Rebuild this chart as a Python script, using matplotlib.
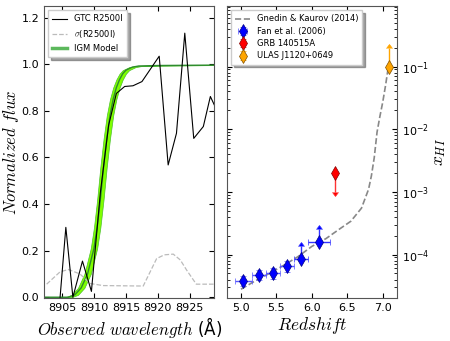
import numpy as np
import matplotlib
matplotlib.use('Agg')
import matplotlib.pyplot as plt

plt.rcParams['mathtext.fontset'] = 'cm'
plt.rcParams['font.family'] = 'DejaVu Sans'
plt.rcParams['xtick.direction'] = 'in'
plt.rcParams['ytick.direction'] = 'in'
plt.rcParams['xtick.top'] = True
plt.rcParams['ytick.right'] = True
plt.rcParams['xtick.labelsize'] = 8
plt.rcParams['ytick.labelsize'] = 8

# --- left panel: spectrum around the Lya break
spec_wl = [8904.7, 8905.6, 8906.7, 8908.2, 8909.6, 8911.0, 8912.3, 8913.5,
           8914.8, 8916.1, 8917.5, 8920.2, 8921.6, 8922.9, 8924.2, 8925.6,
           8927.1, 8928.2, 8929.0]
spec_flux = [0.0, 0.30, 0.0, 0.155, 0.025, 0.45, 0.74, 0.875,
             0.905, 0.908, 0.926, 1.035, 0.568, 0.704, 1.134, 0.682,
             0.733, 0.862, 0.815]

sig_wl = [8902.6, 8904.7, 8906.0, 8907.8, 8909.4, 8911.4, 8917.7, 8919.8,
          8921.0, 8922.4, 8923.5, 8924.5, 8926.0, 8928.8]
sig_flux = [0.056, 0.109, 0.119, 0.100, 0.059, 0.050, 0.048, 0.166,
            0.182, 0.185, 0.160, 0.116, 0.056, 0.056]

model_wl = [8900.0, 8906.0, 8907.0, 8908.0, 8909.0, 8910.0, 8910.5, 8911.0,
            8911.5, 8912.0, 8912.5, 8913.0, 8913.5, 8914.0, 8914.5, 8915.0,
            8916.0, 8917.0, 8920.0, 8930.0]
model_flux = [0.0, 0.0, 0.01, 0.04, 0.10, 0.21, 0.30, 0.42,
              0.56, 0.68, 0.78, 0.85, 0.90, 0.935, 0.96, 0.975,
              0.988, 0.993, 0.995, 0.997]
model_spread = 0.5  # Angstrom, half width of the model band

# --- right panel: neutral fraction vs redshift
gk_z = [5.0, 5.2, 5.4, 5.6, 5.8, 6.0, 6.2, 6.4, 6.55, 6.7, 6.8, 6.84,
        6.88, 6.92, 6.96, 7.0, 7.04, 7.08]
gk_x = [2.8e-5, 3.8e-5, 5.0e-5, 6.7e-5, 9.2e-5, 1.35e-4, 1.8e-4, 2.6e-4,
        3.4e-4, 5.5e-4, 1.1e-3, 1.8e-3, 3.5e-3, 9e-3, 1.6e-2, 2.7e-2,
        5e-2, 0.1]

fan_z = [5.03, 5.25, 5.45, 5.65]
fan_x = [3.8e-5, 4.8e-5, 5.1e-5, 6.5e-5]
fan_zerr = [0.12, 0.1, 0.1, 0.1]
fan_xerr = [0.7e-5, 0.9e-5, 1.0e-5, 1.3e-5]
fan_lim_z = [5.85, 6.10]
fan_lim_x = [8.5e-5, 1.58e-4]
fan_lim_zerr = [0.1, 0.16]
fan_lim_xerr = [5e-5, 1.0e-4]

grb_z = [6.33]
grb_x = [2.0e-3]
grb_err = [1.0e-3]

ulas_z = [7.085]
ulas_x = [0.1]
ulas_err = [0.1]

fig = plt.figure(figsize=(4.5, 3.41), dpi=100)
ax1 = fig.add_axes([0.098, 0.125, 0.378, 0.857])
ax2 = fig.add_axes([0.504, 0.125, 0.378, 0.857])

wl = np.array(model_wl)
ax1.fill_betweenx(model_flux, wl - model_spread, wl + model_spread,
                  facecolor='#80ff00', edgecolor='#4cc02c', lw=0.5, zorder=1)
ax1.plot(model_wl, model_flux, color='#2e8b2e', lw=1.0, zorder=2)
ax1.plot(spec_wl, spec_flux, color='k', lw=0.8, label='GTC R2500I', zorder=3)
ax1.plot(sig_wl, sig_flux, color='#bbbbbb', lw=0.9, ls='--',
         label=r'$\sigma$(R2500I)', zorder=2)
ax1.plot([], [], color='#5cb85c', lw=2.5, label='IGM Model')
ax1.set_xlim(8902.2, 8928.8)
ax1.set_ylim(-0.005, 1.25)
ax1.set_xticks([8905, 8910, 8915, 8920, 8925])
ax1.set_yticks([0.0, 0.2, 0.4, 0.6, 0.8, 1.0, 1.2])
ax1.set_xlabel(r'$Observed\ wavelength$ (Å)', fontsize=12, labelpad=1)
ax1.set_ylabel(r'$Normalized\ flux$', fontsize=12, labelpad=0)
ax1.legend(loc='upper left', fontsize=6, shadow=True, fancybox=False,
           handlelength=1.8, borderpad=0.5, labelspacing=0.5)

ax2.plot(gk_z, gk_x, color='#888888', lw=1.2, ls='--',
         label='Gnedin & Kaurov (2014)', zorder=1)
ax2.errorbar(fan_z, fan_x, xerr=fan_zerr, yerr=fan_xerr, fmt='d',
             color='#0000ff', ecolor='#5555ff', mec='#000080', mew=0.5,
             ms=7.5, capsize=2, elinewidth=1, label='Fan et al. (2006)', zorder=3)
ax2.errorbar(fan_lim_z, fan_lim_x, xerr=fan_lim_zerr, yerr=fan_lim_xerr,
             lolims=True, fmt='d', color='#0000ff', ecolor='#3333ff',
             mec='#000080', mew=0.5, ms=7.5, capsize=2, elinewidth=1, zorder=3)
ax2.errorbar(grb_z, grb_x, yerr=grb_err, uplims=True, fmt='d',
             color='#ff0000', ecolor='#ff3333', mec='#800000', mew=0.5, ms=7.5,
             capsize=2, elinewidth=1, label='GRB 140515A', zorder=3)
ax2.errorbar(ulas_z, ulas_x, yerr=ulas_err, lolims=True, fmt='d',
             color='#ffa500', ecolor='#ffa500', mec='#805000', mew=0.5, ms=7.5,
             capsize=2, elinewidth=1, label='ULAS J1120+0649', zorder=3)
ax2.set_yscale('log')
ax2.set_xlim(4.8, 7.2)
ax2.set_ylim(2e-5, 0.92)
ax2.set_xticks([5.0, 5.5, 6.0, 6.5, 7.0])
ax2.yaxis.tick_right()
ax2.yaxis.set_ticks_position('both')
ax2.yaxis.set_label_position('right')
ax2.set_xlabel(r'$Redshift$', fontsize=12.5, labelpad=1)
ax2.set_ylabel(r'$x_{HI}$', fontsize=12.5, labelpad=1)
ax2.legend(loc='upper left', fontsize=6, shadow=True, fancybox=False,
           numpoints=1, handlelength=1.8, borderpad=0.5, labelspacing=0.4)

for ax in (ax1, ax2):
    for sp in ax.spines.values():
        sp.set_color('#555555')

fig.savefig('out.png', dpi=100)
